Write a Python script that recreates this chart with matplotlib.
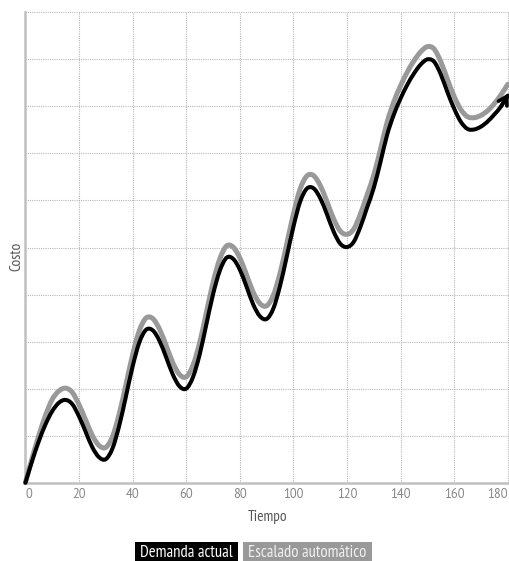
import matplotlib
matplotlib.use("Agg")
import numpy as np
import matplotlib.pyplot as plt
from matplotlib.patches import Rectangle, PathPatch
from matplotlib.path import Path

tiempo = [0, 2.5, 5, 7.5, 10, 12.5, 15, 17.5, 20, 22.5, 25, 27.5, 30, 32.5, 35, 37.5,
          40, 42.5, 45, 47.5, 50, 52.5, 55, 57.5, 60, 62.5, 65, 67.5, 70, 72.5, 75, 77.5,
          80, 82.5, 85, 87.5, 90, 92.5, 95, 97.5, 100, 102.5, 105, 107.5, 110, 112.5, 115,
          117.5, 120, 122.5, 125, 127.5, 130, 132.5, 135, 137.5, 140, 142.5, 145, 147.5,
          150, 152.5, 155, 157.5, 160, 162.5, 165, 167.5, 170, 172.5, 175, 177.5, 180]

demanda_actual = [0.00, 0.46, 0.88, 1.24, 1.52, 1.70, 1.76, 1.67, 1.41, 1.08, 0.75, 0.54,
                  0.50, 0.73, 1.21, 1.83, 2.47, 2.98, 3.25, 3.24, 3.02, 2.67, 2.30, 2.05,
                  2.00, 2.24, 2.72, 3.36, 4.00, 4.50, 4.78, 4.76, 4.53, 4.17, 3.79, 3.54,
                  3.48, 3.70, 4.18, 4.80, 5.44, 5.97, 6.25, 6.26, 6.05, 5.71, 5.34, 5.08,
                  5.01, 5.12, 5.44, 5.85, 6.27, 6.82, 7.40, 7.83, 8.17, 8.46, 8.70, 8.89,
                  9.00, 8.95, 8.68, 8.30, 7.95, 7.67, 7.52, 7.51, 7.57, 7.68, 7.83, 8.00, 8.23]

escalado_automatico = [0.00, 0.52, 1.00, 1.43, 1.77, 1.95, 2.01, 1.92, 1.66, 1.33, 1.00, 0.79,
                       0.75, 0.98, 1.46, 2.08, 2.72, 3.23, 3.50, 3.49, 3.27, 2.92, 2.55, 2.30,
                       2.25, 2.49, 2.97, 3.61, 4.25, 4.75, 5.03, 5.01, 4.78, 4.42, 4.05, 3.81,
                       3.76, 3.98, 4.45, 5.07, 5.71, 6.24, 6.52, 6.53, 6.32, 5.98, 5.61, 5.35,
                       5.28, 5.39, 5.71, 6.12, 6.54, 7.09, 7.67, 8.10, 8.44, 8.73, 8.97, 9.16,
                       9.27, 9.22, 8.95, 8.57, 8.21, 7.93, 7.78, 7.76, 7.81, 7.91, 8.06, 8.25, 8.47]

x_ticks = [0, 20, 40, 60, 80, 100, 120, 140, 160, 180]
y_grid = [0, 1, 2, 3, 4, 5, 6, 7, 8, 9, 10]
series_names = ["Demanda actual", "Escalado automático"]

NARROW = ["PT Sans Narrow", "DejaVu Sans"]
REGULAR = ["PT Sans", "DejaVu Sans"]
plt.rcParams["font.family"] = NARROW


def smooth_path(xs, ys):
    """Catmull-Rom curve through the data points, drawn as cubic Bezier segments."""
    p = np.column_stack([xs, ys]).astype(float)
    verts = [p[0]]
    codes = [Path.MOVETO]
    n = len(p)
    for i in range(n - 1):
        p0 = p[i - 1] if i > 0 else p[i]
        p1, p2 = p[i], p[i + 1]
        p3 = p[i + 2] if i + 2 < n else p[i + 1]
        c1 = p1 + (p2 - p0) / 6.0
        c2 = p2 - (p3 - p1) / 6.0
        verts += [c1, c2, p2]
        codes += [Path.CURVE4] * 3
    return Path(verts, codes)


W, H = 510, 561
fig = plt.figure(figsize=(W / 100, H / 100), dpi=100)
ax = fig.add_axes([25.4 / W, (H - 482.7) / H, 484 / W, 470.4 / H])
ax.set_xlim(0, 180.6)
ax.set_ylim(0, 10)

ax.set_xticks(x_ticks)
ax.set_yticks(y_grid)
ax.set_yticklabels([])
ax.grid(True, color="#b8b8b8", linestyle=(0, (1, 1)), linewidth=0.8)
ax.tick_params(axis="both", length=0, colors="#858585")
ax.tick_params(axis="x", labelsize=9, pad=4)
for lab in ax.get_xticklabels():
    lab.set_fontfamily(REGULAR)
labels = ax.get_xticklabels()
labels[0].set_horizontalalignment("left")
labels[-1].set_horizontalalignment("right")

for s in ["top", "right"]:
    ax.spines[s].set_visible(False)
for s in ["left", "bottom"]:
    ax.spines[s].set_color("#c0c0c0")
    ax.spines[s].set_linewidth(1.8)
ax.set_axisbelow(True)

ax.add_patch(PathPatch(smooth_path(tiempo, escalado_automatico), facecolor="none",
                       edgecolor="#999999", lw=3.6, capstyle="round", joinstyle="round",
                       clip_on=False, zorder=3))
ax.add_patch(PathPatch(smooth_path(tiempo, demanda_actual), facecolor="none",
                       edgecolor="black", lw=2.9, capstyle="round", joinstyle="round",
                       clip_on=False, zorder=4))
ax.annotate("", xy=(tiempo[-1] + 0.3, demanda_actual[-1] + 0.05),
            xytext=(tiempo[-2], demanda_actual[-2]),
            arrowprops=dict(arrowstyle="->,head_length=0.6,head_width=0.35", color="black",
                            lw=2.6, shrinkA=0, shrinkB=0), zorder=5, annotation_clip=False)

fig.text(267.5 / W, 1 - 520.7 / H, "Tiempo", ha="center", va="baseline", fontsize=11,
         color="#555555")
fig.text(16 / W, 1 - 256 / H, "Costo", ha="center", va="center", rotation=90,
         fontsize=11, color="#555555")

# legend boxes
boxes = [(135, 238, "black", "white"), (243, 372, "#999999", "#f0f0f0")]
for (x0, x1, fc, tc), name in zip(boxes, series_names):
    fig.patches.append(Rectangle((x0 / W, 0), (x1 - x0) / W, 19.5 / H, transform=fig.transFigure,
                                 facecolor=fc, edgecolor="none"))
    fig.text((x0 + x1) / 2 / W, 3.7 / H, name, ha="center", va="baseline", fontsize=12,
             color=tc)

fig.savefig("out.png", dpi=100)
